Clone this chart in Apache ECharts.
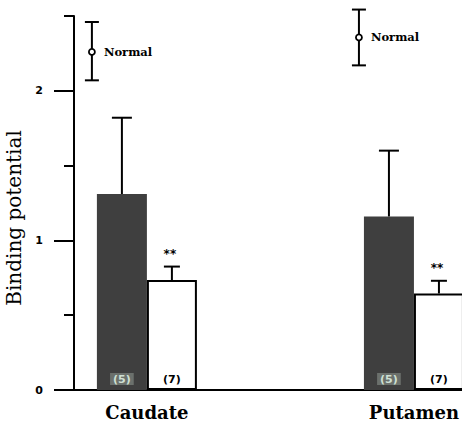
<!DOCTYPE html>
<html>
<head>
<meta charset="utf-8">
<script src="https://cdn.jsdelivr.net/npm/echarts@6/dist/echarts.min.js"></script>
<style>html,body{margin:0;padding:0;background:#fff;}#c{width:462px;height:426px;}</style>
</head>
<body>
<div id="c"></div>
<script>
// ---- data ----
var categories = ['Caudate', 'Putamen'];
var categoryX = [1, 2];
var groupAValues = [1.31, 1.16];     // dark bars
var groupAErrors = [0.51, 0.44];
var groupAN = [5, 5];
var groupBValues = [0.735, 0.645];   // white bars
var groupBErrors = [0.09, 0.085];
var groupBN = [7, 7];
var groupBSignif = ['**', '**'];
var normalMean = [2.26, 2.357];
var normalLow = [2.07, 2.17];
var normalHigh = [2.46, 2.543];
var normalLabel = 'Normal';
var yMajorTicks = [0, 1, 2];
var yMinorTicks = [0.5, 1.5, 2.5];
var yTitle = 'Binding potential';

// ---- layout constants ----
var BAR_W = 50;
var X_MIN = 0.727, X_MAX = 2.18;
var NORMAL_DX = -55;

var chart = echarts.init(document.getElementById('c'), null, {renderer: 'svg'});

function pairs(xs, ys) { return xs.map(function (x, i) { return [x, ys[i]]; }); }

var errData = [];
categoryX.forEach(function (x, i) {
  errData.push([x, groupAValues[i], groupAErrors[i], 0, '']);
  errData.push([x, groupBValues[i], groupBErrors[i], 1, groupBSignif[i]]);
});
var normalData = categoryX.map(function (x, i) { return [x, normalMean[i], normalLow[i], normalHigh[i]]; });

var option = {
  animation: false,
  backgroundColor: '#fff',
  grid: {left: 74, right: 0, top: 16, bottom: 36, containLabel: false, outerBoundsMode: 'none'},
  xAxis: {
    type: 'value', min: X_MIN, max: X_MAX,
    splitLine: {show: false},
    axisLine: {show: true, onZero: false, lineStyle: {color: '#000', width: 2}},
    axisTick: {show: false},
    axisLabel: {
      customValues: categoryX,
      margin: 13,
      formatter: function (v) { var k = categoryX.indexOf(v); return k >= 0 ? categories[k] : ''; },
      fontFamily: 'DejaVu Serif', fontWeight: 'bold', fontSize: 18, color: '#000'
    }
  },
  yAxis: [{
    type: 'value', min: 0, max: 2.5,
    splitLine: {show: false},
    axisLine: {show: true, lineStyle: {color: '#000', width: 2}},
    axisTick: {show: true, customValues: yMajorTicks, length: 20, lineStyle: {color: '#000', width: 2}},
    axisLabel: {customValues: yMajorTicks, margin: 31, fontFamily: 'DejaVu Sans', fontWeight: 'bold', fontSize: 11, color: '#000'},
    name: yTitle, nameLocation: 'middle', nameRotate: 90, nameGap: 49,
    nameTextStyle: {fontFamily: 'DejaVu Serif', fontSize: 20, color: '#000', padding: [0, 30, 0, 0]}
  }, {
    type: 'value', min: 0, max: 2.5, position: 'left',
    splitLine: {show: false},
    axisLine: {show: false},
    axisTick: {show: true, customValues: yMinorTicks, length: 10, lineStyle: {color: '#000', width: 2}},
    axisLabel: {show: false}
  }],
  series: [{
    type: 'bar', name: 'Group A', barWidth: BAR_W, barGap: '0%',
    data: pairs(categoryX, groupAValues),
    itemStyle: {color: '#3f3f3f'},
    label: {
      show: true, position: 'insideBottom', distance: 5,
      formatter: function (p) { return '(' + groupAN[p.dataIndex] + ')'; },
      color: '#cfe0d4', backgroundColor: '#6b706c', padding: [1, 3, 0, 3],
      fontFamily: 'DejaVu Sans', fontWeight: 'bold', fontSize: 11
    },
    z: 2
  }, {
    type: 'bar', name: 'Group B', barWidth: BAR_W, barGap: '0%',
    data: pairs(categoryX, groupBValues),
    itemStyle: {color: '#fff', borderColor: '#000', borderWidth: 2},
    label: {
      show: true, position: 'insideBottom', distance: 5,
      formatter: function (p) { return '(' + groupBN[p.dataIndex] + ')'; },
      color: '#000', fontFamily: 'DejaVu Sans', fontWeight: 'bold', fontSize: 11
    },
    z: 2
  }, {
    type: 'custom', name: 'errors', clip: false, z: 5,
    data: errData,
    renderItem: function (params, api) {
      var x = api.value(0), v = api.value(1), e = api.value(2), idx = api.value(3);
      var base = api.coord([x, v]);
      var top = api.coord([x, v + e]);
      var cx = base[0] + (idx === 0 ? -BAR_W / 2 : BAR_W / 2);
      var cap = idx === 0 ? 20 : 16;
      var st = {stroke: '#000', lineWidth: 2};
      var children = [
        {type: 'line', shape: {x1: cx, y1: base[1], x2: cx, y2: top[1]}, style: st},
        {type: 'line', shape: {x1: cx - cap / 2, y1: top[1], x2: cx + cap / 2, y2: top[1]}, style: st}
      ];
      var s = errData[params.dataIndex][4];
      if (s) {
        children.push({type: 'text', style: {text: s, x: cx - 2, y: top[1] - 7, align: 'center', verticalAlign: 'bottom',
          font: 'bold 12px DejaVu Sans', fill: '#000'}});
      }
      return {type: 'group', children: children};
    }
  }, {
    type: 'custom', name: 'Normal', clip: false, z: 5,
    data: normalData,
    renderItem: function (params, api) {
      var x = api.value(0);
      var m = api.coord([x, api.value(1)]);
      var lo = api.coord([x, api.value(2)]);
      var hi = api.coord([x, api.value(3)]);
      var cx = m[0] + NORMAL_DX;
      var st = {stroke: '#000', lineWidth: 2};
      return {type: 'group', children: [
        {type: 'line', shape: {x1: cx, y1: lo[1], x2: cx, y2: hi[1]}, style: st},
        {type: 'line', shape: {x1: cx - 7, y1: lo[1], x2: cx + 7, y2: lo[1]}, style: st},
        {type: 'line', shape: {x1: cx - 7, y1: hi[1], x2: cx + 7, y2: hi[1]}, style: st},
        {type: 'circle', shape: {cx: cx, cy: m[1], r: 3}, style: {fill: '#fff', stroke: '#000', lineWidth: 1.8}},
        {type: 'text', style: {text: normalLabel, x: cx + 12, y: m[1], align: 'left', verticalAlign: 'middle',
          font: 'bold 11.5px DejaVu Serif', fill: '#000'}}
      ]};
    }
  }]
};
chart.setOption(option);
</script>
</body>
</html>
